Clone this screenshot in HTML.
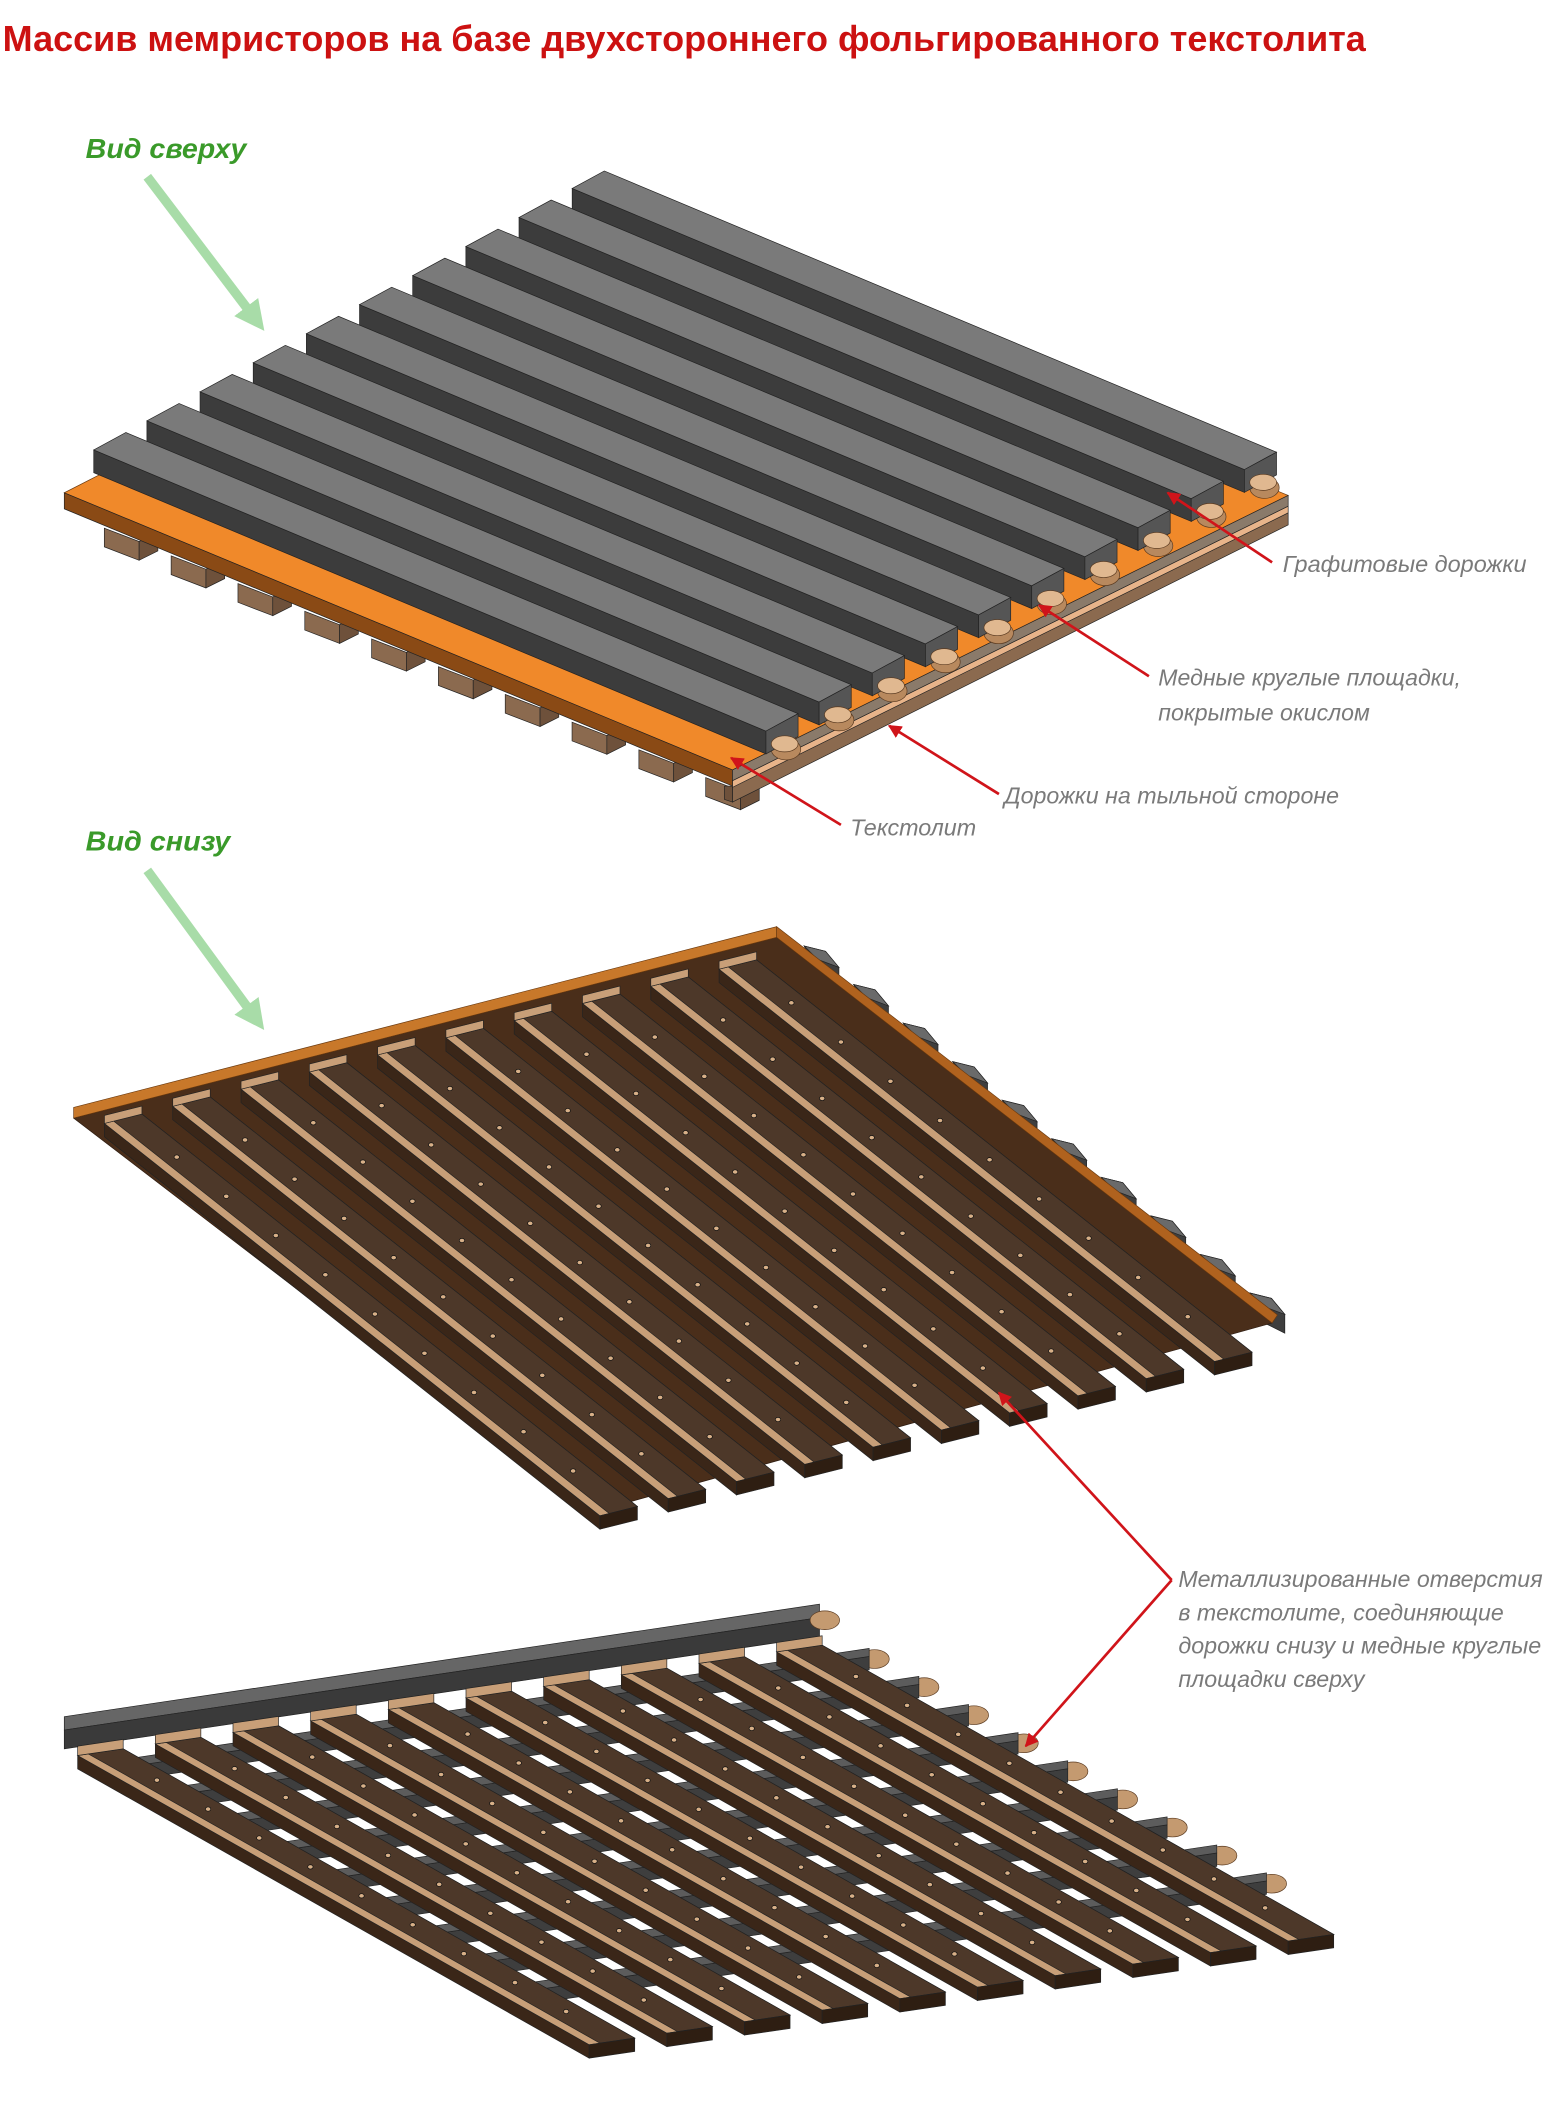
<!DOCTYPE html>
<html><head><meta charset="utf-8">
<style>
html,body{margin:0;padding:0;background:#fff;}
svg{display:block;}
text{font-family:"Liberation Sans",sans-serif;}
.lbl{font-style:italic;fill:#7a7a7a;font-size:17px;}
.grn{font-style:italic;font-weight:bold;fill:#3a9a2a;font-size:21px;}
</style></head>
<body>
<svg id="s" width="1560" height="2105" viewBox="0 0 1165 1572" xmlns="http://www.w3.org/2000/svg">
<defs>
<marker id="ar" viewBox="0 0 10 10" refX="9" refY="5" markerWidth="5" markerHeight="5" orient="auto-start-reverse"><path d="M0,0 L10,5 L0,10 z" fill="#d0141a"/></marker>
<marker id="ag" viewBox="0 0 10 10" refX="6" refY="5" markerWidth="3.2" markerHeight="3.2" orient="auto"><path d="M0,0 L10,5 L0,10 z" fill="#a8dca8"/></marker>
</defs>
<g id="art"></g>
<text x="2" y="38" font-size="27" font-weight="bold" fill="#cc1111" textLength="1018" lengthAdjust="spacingAndGlyphs">Массив мемристоров на базе двухстороннего фольгированного текстолита</text>
<text class="grn" x="64" y="118" textLength="120" lengthAdjust="spacingAndGlyphs">Вид сверху</text>
<text class="grn" x="64" y="635" textLength="108" lengthAdjust="spacingAndGlyphs">Вид снизу</text>
<line x1="110" y1="132" x2="192" y2="240" stroke="#a8dca8" stroke-width="7" marker-end="url(#ag)"/>
<line x1="110" y1="650" x2="192" y2="762" stroke="#a8dca8" stroke-width="7" marker-end="url(#ag)"/>
<g stroke="#d0141a" stroke-width="2" fill="none">
<line x1="950" y1="420" x2="872" y2="368" marker-end="url(#ar)"/>
<line x1="858" y1="505" x2="776" y2="452" marker-end="url(#ar)"/>
<line x1="746" y1="593" x2="664" y2="542" marker-end="url(#ar)"/>
<line x1="628" y1="616" x2="546" y2="566" marker-end="url(#ar)"/>
<line x1="875" y1="1180" x2="746" y2="1040" marker-end="url(#ar)"/>
<line x1="875" y1="1180" x2="766" y2="1304" marker-end="url(#ar)"/>
</g>
<text class="lbl" x="958" y="427" textLength="182" lengthAdjust="spacingAndGlyphs">Графитовые дорожки</text>
<text class="lbl" x="865" y="512" textLength="226" lengthAdjust="spacingAndGlyphs">Медные круглые площадки,</text>
<text class="lbl" x="865" y="538" textLength="158" lengthAdjust="spacingAndGlyphs">покрытые окислом</text>
<text class="lbl" x="750" y="600" textLength="250" lengthAdjust="spacingAndGlyphs">Дорожки на тыльной стороне</text>
<text class="lbl" x="635" y="624" textLength="94" lengthAdjust="spacingAndGlyphs">Текстолит</text>
<text class="lbl" x="880" y="1185" textLength="272" lengthAdjust="spacingAndGlyphs">Металлизированные отверстия</text>
<text class="lbl" x="880" y="1210" textLength="243" lengthAdjust="spacingAndGlyphs">в текстолите, соединяющие</text>
<text class="lbl" x="880" y="1235" textLength="271" lengthAdjust="spacingAndGlyphs">дорожки снизу и медные круглые</text>
<text class="lbl" x="880" y="1260" textLength="139" lengthAdjust="spacingAndGlyphs">площадки сверху</text>
</svg>
<script>
var g=document.getElementById('art'),NS='http://www.w3.org/2000/svg';
function P(pts,fill,st){var e=document.createElementNS(NS,'polygon');e.setAttribute('points',pts.map(function(p){return p[0].toFixed(1)+','+p[1].toFixed(1)}).join(' '));e.setAttribute('fill',fill);e.setAttribute('stroke',st||'#222');e.setAttribute('stroke-width','0.5');g.appendChild(e);}
function E(cx,cy,rx,ry,fill,st){var e=document.createElementNS(NS,'ellipse');e.setAttribute('cx',cx);e.setAttribute('cy',cy);e.setAttribute('rx',rx);e.setAttribute('ry',ry);e.setAttribute('fill',fill);if(st){e.setAttribute('stroke',st);e.setAttribute('stroke-width','0.5');}g.appendChild(e);}
function a(p,q,k){k=k==null?1:k;return [p[0]+q[0]*k,p[1]+q[1]*k];}
// ===== TOP VIEW =====
var A=[48,368],B=[547,575],C=[962,370],D=[455,160];
for(var i=0;i<10;i++){var t=0.06+i*0.1;var p=[A[0]+(B[0]-A[0])*t,A[1]+(B[1]-A[1])*t+14];
P([p,a(p,[26,10]),a(a(p,[26,10]),[0,14]),a(p,[0,14])],'#8b6a4f');P([a(p,[26,10]),a(p,[40,3]),a(p,[40,17]),a(p,[26,24])],'#6e513b');}
P([a(B,[0,12]),a(C,[0,12]),a(C,[0,22]),a(B,[0,24])],'#8b6a4f');
P([a(B,[-6,12]),a(B,[0,12]),a(B,[0,24]),a(B,[-6,22])],'#6e513b');
P([a(B,[0,8]),a(C,[0,8]),a(C,[0,13]),a(B,[0,13])],'#e8b48a');
P([A,B,C,D],'#f0892a','#6a3a10');
P([A,B,a(B,[0,12]),a(A,[0,12])],'#8a4a15');
P([B,C,a(C,[0,8]),a(B,[0,8])],'#8a7a6a');
var u=[502,210],v=[39.7,-21.7],w=[24,-13],h=[0,17];
for(var i=9;i>=0;i--){var s=a([70,336],v,i);
var e=a(s,u);
E(e[0]+w[0]/2+3,e[1]+w[1]/2+h[1]+3,11,8,'#b8895e','#5a3a20');
P([a(s,h),a(e,h),e,s],'#3c3c3c');
P([s,e,a(e,w),a(s,w)],'#7a7a7a');
P([e,a(e,w),a(a(e,w),h),a(e,h)],'#555');
E(e[0]+w[0]/2+2,e[1]+w[1]/2+h[1]-1,10,6,'#e0b890','#5a3a20');
}
// ===== BOTTOM VIEW 1 =====
var b1=[55,835],b2=[580,700],b3=[950,988],b4=[440,1130];
for(var i=0;i<10;i++){var t=0.05+i*0.1;var p=[b2[0]+(b3[0]-b2[0])*t,b2[1]+(b3[1]-b2[1])*t];
P([a(p,[2,-8]),a(p,[18,-4]),a(p,[28,8]),a(p,[28,22]),a(p,[12,14])],'#3e3e3e');P([a(p,[2,-8]),a(p,[18,-4]),a(p,[28,8]),a(p,[12,2])],'#6a6a6a');}
P([b1,b2,b3,b4],'#4a2e1a','#2a1a10');
P([a(b1,[0,-8]),a(b2,[0,-8]),b2,b1],'#c8782a','#6a3a10');
P([a(b2,[0,-8]),a(b3,[4,-6]),b3,b2],'#b0621e','#6a3a10');
var u1=[370,293],v1=[51,-12.8],w1=[28,-7],h1=[0,10];
for(var i=9;i>=0;i--){var s=a([78,839],v1,i),e=a(s,u1);
P([s,e,a(e,h1),a(s,h1)],'#3a2618');
P([s,e,a(e,w1),a(s,w1)],'#c89f78');
var s2=a(s,[7,-1.7]),e2=a(e,[7,-1.7]);
P([s2,e2,a(e2,[21,-5.3]),a(s2,[21,-5.3])],'#4d3829');
P([a(e,h1),a(a(e,w1),h1),a(e,w1),e],'#2e1e12');
P([s,a(s,w1),a(a(s,w1),[0,-6]),a(s,[0,-6])],'#c89f78');
for(var k=1;k<10;k++){var q=a(a(s2,[10,-2.5]),u1,k/10);E(q[0],q[1],2,1.6,'#d8b088','#111');}
}
// ===== BOTTOM VIEW 2 =====
var u2=[382,216],v2=[58,-8.6],w2=[34,-5],h2=[0,10];
var T0=[48,1292],T1=[612,1208];
for(var k=9;k>=1;k--){var o=a([0,8],u2,k/10.3);var p0=a(T0,o),p1=a(T1,o);
E(p1[0]+4,p1[1]+2,11,7,'#c49a70','#5a3a20');
P([p0,p1,a(p1,[0,10]),a(p0,[0,10])],'#3e3e3e');
P([a(p0,[0,-6]),a(p1,[0,-6]),p1,p0],'#5c5c5c');}
P([a(T0,[0,-10]),a(T1,[0,-10]),T1,T0],'#666','#222');
P([T0,T1,a(T1,[0,14]),a(T0,[0,14])],'#3a3a3a','#222');
E(T1[0]+4,T1[1]+2,11,7,'#c49a70','#5a3a20');
for(var i=9;i>=0;i--){var s=a([58,1311],v2,i),e=a(s,u2);
P([s,e,a(e,h2),a(s,h2)],'#3a2618');
P([s,e,a(e,w2),a(s,w2)],'#c89f78');
var s2=a(s,[8,-1.2]),e2=a(e,[8,-1.2]);
P([s2,e2,a(e2,[26,-3.8]),a(s2,[26,-3.8])],'#4d3829');
P([a(e,h2),a(a(e,w2),h2),a(e,w2),e],'#2e1e12');
P([s,a(s,w2),a(a(s,w2),[0,-7]),a(s,[0,-7])],'#c89f78');
for(var k=1;k<10;k++){var q=a(a(s2,[13,-2]),u2,k/10);E(q[0],q[1],2,1.6,'#d8b088','#111');}
}
</script>
</body></html>
